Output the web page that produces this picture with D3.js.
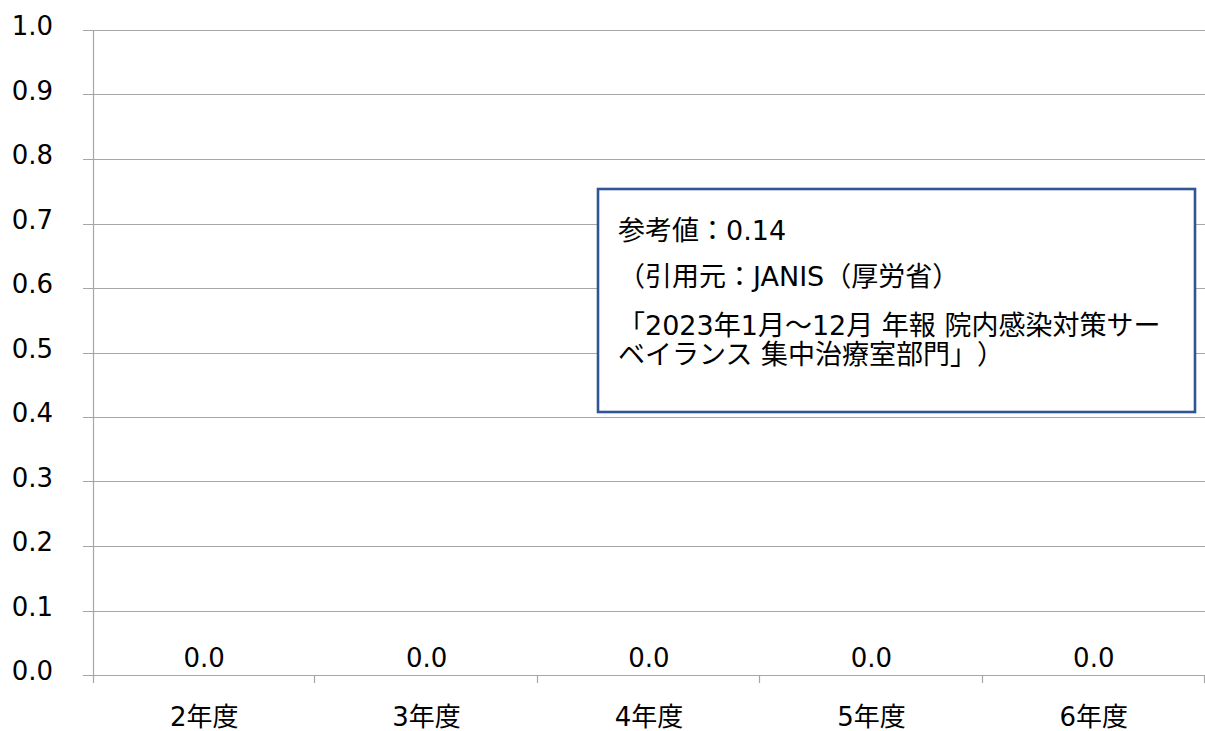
<!DOCTYPE html>
<html><head><meta charset="utf-8">
<script src="https://cdn.jsdelivr.net/npm/d3@7"></script>
<style>
html,body{margin:0;padding:0;background:#fff;}
svg{display:block;}
text{font-family:"DejaVu Sans","Noto Sans CJK JP",sans-serif;fill:#000;text-spacing-trim:space-all;}
</style></head>
<body>
<svg id="c" width="1205" height="731"></svg>
<script>
const categories = ["2年度","3年度","4年度","5年度","6年度"];
const values = [0.0, 0.0, 0.0, 0.0, 0.0];
const yTicks = [0,0.1,0.2,0.3,0.4,0.5,0.6,0.7,0.8,0.9,1.0];
const noteLines = [
  ["参考値：0.14"],
  ["（引用元：JANIS（厚労省）"],
  ["「2023年1月～12月 年報 院内感染対策サー", "ベイランス 集中治療室部門」）"]
];

const svg = d3.select("#c");
const W = 1205, H = 731;
const m = {l:93, r:0, t:30, b:56};
const x = d3.scaleBand().domain(categories).range([m.l, W - m.r]).padding(0);
const y = d3.scaleLinear().domain([0,1]).range([H - m.b, m.t]);
const grid = "#A6A6A6";

// gridlines
svg.append("g").selectAll("line").data(yTicks).join("line")
  .attr("x1", m.l - 10).attr("x2", W)
  .attr("y1", d => Math.round(y(d)) + 0.5).attr("y2", d => Math.round(y(d)) + 0.5)
  .attr("stroke", grid).attr("stroke-width", 1.2);

// y axis line
svg.append("line")
  .attr("x1", m.l + 0.5).attr("x2", m.l + 0.5)
  .attr("y1", y(1)).attr("y2", y(0) + 8)
  .attr("stroke", grid).attr("stroke-width", 1.2);

// x category ticks
const bounds = categories.map(c => x(c)).concat([x(categories[categories.length-1]) + x.bandwidth()]);
svg.append("g").selectAll("line").data(bounds.slice(1)).join("line")
  .attr("x1", d => Math.round(d) - 0.5).attr("x2", d => Math.round(d) - 0.5)
  .attr("y1", y(0)).attr("y2", y(0) + 8)
  .attr("stroke", grid).attr("stroke-width", 1.2);

// y labels
svg.append("g").selectAll("text").data(yTicks).join("text")
  .attr("x", 53).attr("y", d => y(d) + 5)
  .attr("text-anchor", "end")
  .style("font-size", "26px")
  .text(d => d.toFixed(1));

// x labels
svg.append("g").selectAll("text").data(categories).join("text")
  .attr("x", d => x(d) + x.bandwidth()/2).attr("y", 726)
  .attr("text-anchor", "middle")
  .style("font-size", "26px")
  .text(d => d);

// bars (zero height)
const bw = x.bandwidth() * 0.4;
svg.append("g").selectAll("rect").data(values).join("rect")
  .attr("x", (d,i) => x(categories[i]) + (x.bandwidth() - bw)/2)
  .attr("y", d => y(d)).attr("width", bw)
  .attr("height", d => y(0) - y(d))
  .attr("fill", "#4472C4");

// data labels
svg.append("g").selectAll("text").data(values).join("text")
  .attr("x", (d,i) => x(categories[i]) + x.bandwidth()/2)
  .attr("y", d => y(d) - 8)
  .attr("text-anchor", "middle")
  .style("font-size", "26px")
  .text(d => d.toFixed(1));

// note box
const bx = 598, by = 189, bwid = 597, bh = 223;
svg.append("rect").attr("x", bx).attr("y", by).attr("width", bwid).attr("height", bh)
  .attr("fill", "#fff").attr("stroke", "#2F5597").attr("stroke-width", 2.6);

const baselines = [[240],[286],[335,364]];
const tg = svg.append("g");
noteLines.forEach((para, pi) => {
  para.forEach((ln, li) => {
    tg.append("text").attr("x", 618).attr("y", baselines[pi][li])
      .style("font-size", "27px").text(ln);
  });
});
</script>
</body></html>
